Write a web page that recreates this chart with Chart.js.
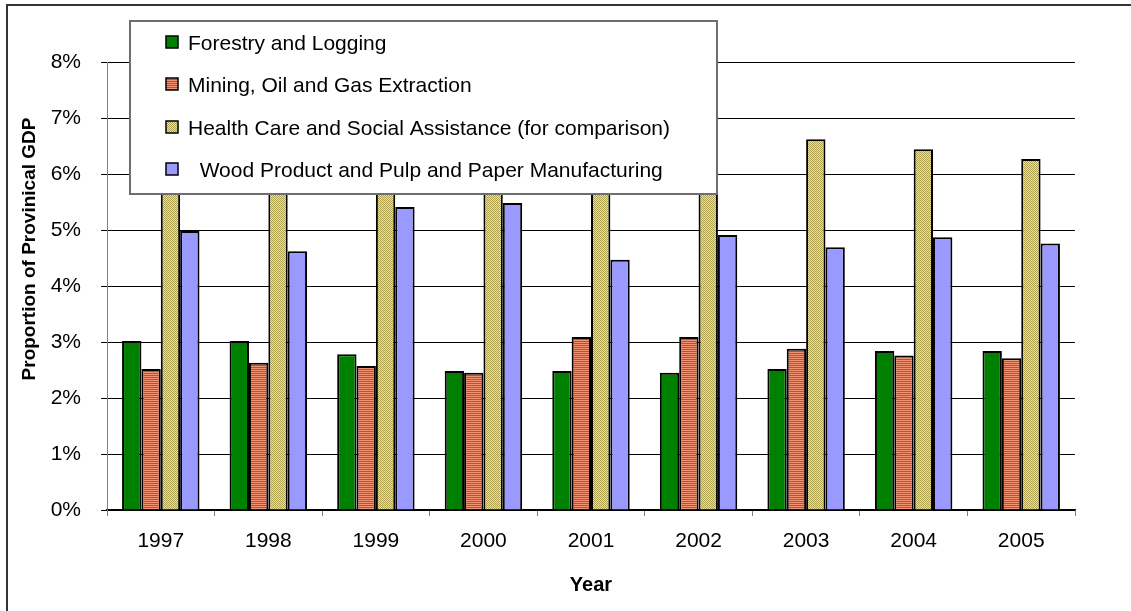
<!DOCTYPE html>
<html>
<head>
<meta charset="utf-8">
<title>Proportion of Provincial GDP</title>
<script src="https://cdn.jsdelivr.net/npm/chart.js@4.4.1/dist/chart.umd.min.js"></script>
<style>
  html, body { margin: 0; padding: 0; background: #ffffff; }
  #wrap { position: relative; width: 1131px; height: 611px; }
</style>
</head>
<body>
<div id="wrap">
  <canvas id="gdpChart" width="1131" height="611"></canvas>
</div>
<script>
// share of provincial GDP by sector, percent
const years = ["1997", "1998", "1999", "2000", "2001", "2002", "2003", "2004", "2005"];
const forestry = [3.02, 3.02, 2.78, 2.48, 2.48, 2.45, 2.52, 2.84, 2.84];
const mining = [2.52, 2.63, 2.57, 2.45, 3.09, 3.09, 2.88, 2.76, 2.71];
const health = [6.10, 6.15, 6.25, 6.30, 6.40, 6.50, 6.62, 6.44, 6.27];
const wood = [4.98, 4.62, 5.41, 5.48, 4.47, 4.91, 4.69, 4.87, 4.76];
const seriesLabels = [
  "Forestry and Logging",
  "Mining, Oil and Gas Extraction",
  "Health Care and Social Assistance (for comparison)",
  "  Wood Product and Pulp and Paper Manufacturing"
];
const yTitle = "Proportion of Provinical GDP";

const FONT = "'Liberation Sans', Arial, sans-serif";

// small tiles for the striped and dotted fills
function makePattern(w, h, paint) {
  const c = document.createElement("canvas");
  c.width = w;
  c.height = h;
  paint(c.getContext("2d"));
  return document.getElementById("gdpChart").getContext("2d").createPattern(c, "repeat");
}

const stripeFill = makePattern(1, 2, (g) => {
  g.fillStyle = "#f29474";
  g.fillRect(0, 0, 1, 1);
  g.fillStyle = "#bc4e36";
  g.fillRect(0, 1, 1, 1);
});

const dotFill = makePattern(2, 2, (g) => {
  g.fillStyle = "#ede48a";
  g.fillRect(0, 0, 2, 2);
  g.fillStyle = "#aea24e";
  g.fillRect(0, 0, 1, 1);
  g.fillRect(1, 1, 1, 1);
});

const fills = ["#008000", stripeFill, dotFill, "#9999ff"];

// frame lines, y title and the boxed legend that sits over the plot
const frameAndLegend = {
  id: "frameAndLegend",
  beforeDraw(chart) {
    const ctx = chart.ctx;
    ctx.save();
    ctx.strokeStyle = "#333333";
    ctx.lineWidth = 2;
    ctx.beginPath();
    ctx.moveTo(7, 611);
    ctx.lineTo(7, 5);
    ctx.lineTo(1131, 5);
    ctx.stroke();

    ctx.translate(30, 249);
    ctx.rotate(-Math.PI / 2);
    ctx.font = "bold 19px " + FONT;
    ctx.fillStyle = "#000000";
    ctx.textAlign = "center";
    ctx.textBaseline = "middle";
    ctx.fillText(yTitle, 0, 0);
    ctx.restore();
  },
  afterDraw(chart) {
    const ctx = chart.ctx;
    ctx.save();
    ctx.fillStyle = "#ffffff";
    ctx.fillRect(130, 21, 587, 173);
    ctx.strokeStyle = "#6e6e6e";
    ctx.lineWidth = 2;
    ctx.strokeRect(130, 21, 587, 173);

    ctx.font = "21px " + FONT;
    ctx.textAlign = "left";
    ctx.textBaseline = "alphabetic";
    const rowY = [42, 84, 127, 169];
    chart.data.datasets.forEach((ds, i) => {
      const cy = rowY[i];
      ctx.fillStyle = ds.backgroundColor;
      ctx.fillRect(166, cy - 6, 12, 12);
      ctx.strokeStyle = "#000000";
      ctx.lineWidth = 1.5;
      ctx.strokeRect(166, cy - 6, 12, 12);
      ctx.fillStyle = "#000000";
      ctx.fillText(ds.label, 188, cy + 7.5);
    });
    ctx.restore();
  }
};

const datasets = [forestry, mining, health, wood].map((values, i) => ({
  label: seriesLabels[i],
  data: values,
  backgroundColor: fills[i],
  borderColor: "#000000",
  borderWidth: 2,
  borderSkipped: "bottom",
  categoryPercentage: 0.72,
  barPercentage: 1.0
}));

new Chart(document.getElementById("gdpChart"), {
  type: "bar",
  data: {
    labels: years,
    datasets: datasets
  },
  plugins: [frameAndLegend],
  options: {
    responsive: false,
    animation: false,
    layout: {
      padding: { top: 62, right: 56, left: 0, bottom: 0 }
    },
    plugins: {
      legend: { display: false },
      tooltip: { enabled: false }
    },
    scales: {
      x: {
        offset: true,
        grid: {
          offset: true,
          drawOnChartArea: false,
          drawTicks: true,
          tickLength: 6,
          color: "#808080"
        },
        border: { color: "#000000", width: 1.5 },
        ticks: {
          color: "#000000",
          padding: 13,
          font: { family: FONT, size: 21 }
        },
        title: {
          display: true,
          text: "Year",
          color: "#000000",
          padding: { top: 0, bottom: 14 },
          font: { family: FONT, size: 20, weight: "bold" }
        },
        afterFit(scale) { scale.height = 101; }
      },
      y: {
        min: 0,
        max: 8,
        grid: {
          color: "#000000",
          lineWidth: 1,
          drawTicks: true,
          tickLength: 6
        },
        border: { color: "#808080", width: 1 },
        ticks: {
          stepSize: 1,
          color: "#000000",
          padding: 20,
          font: { family: FONT, size: 21 },
          callback: (v) => v + "%"
        },
        afterFit(scale) { scale.width = 107; }
      }
    }
  }
});
</script>
</body>
</html>
